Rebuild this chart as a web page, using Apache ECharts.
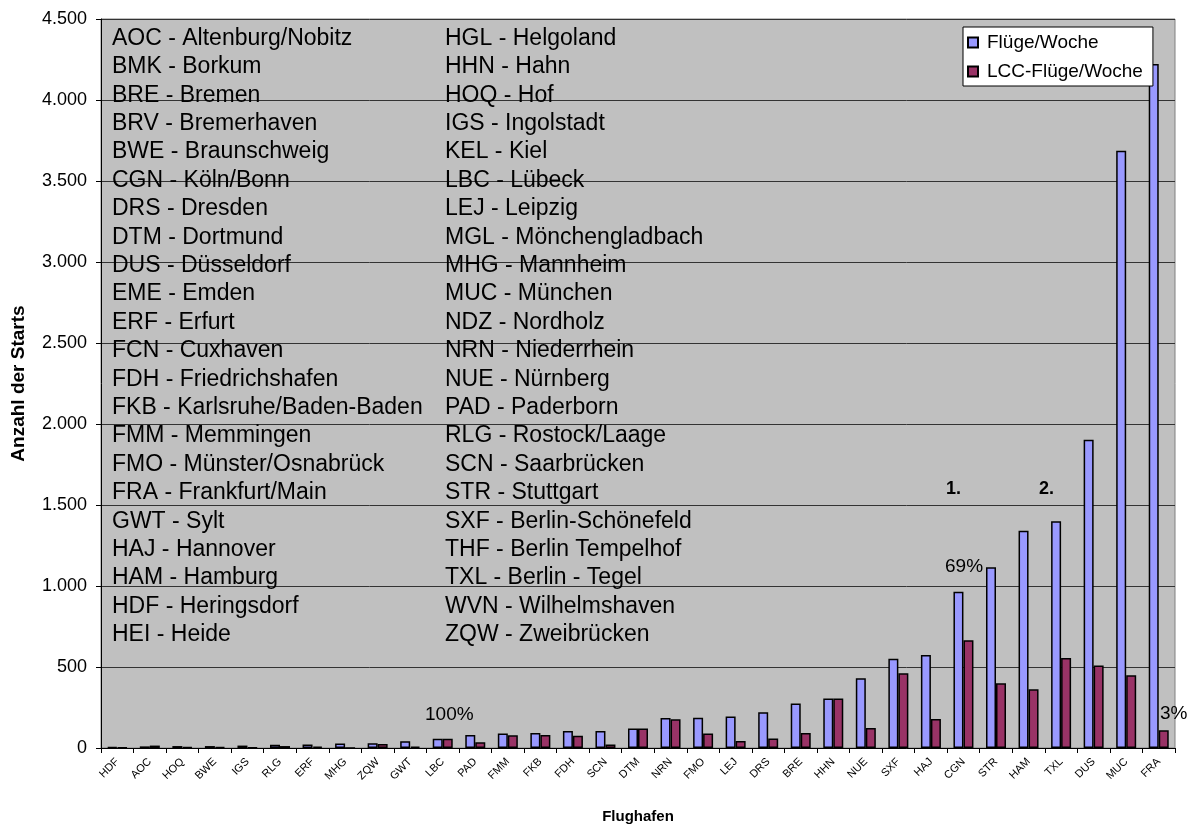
<!DOCTYPE html>
<html>
<head>
<meta charset="utf-8">
<title>Flüge/Woche</title>
<script src="https://cdn.jsdelivr.net/npm/echarts@6/dist/echarts.min.js"></script>
<style>
  html, body { margin: 0; padding: 0; background: #fff; }
  #chart { width: 1193px; height: 827px; }
</style>
</head>
<body>
<div id="chart"></div>
<script>
// Flughäfen, sortiert nach Flügen pro Woche
var airports = ['HDF','AOC','HOQ','BWE','IGS','RLG','ERF','MHG','ZQW','GWT','LBC','PAD','FMM','FKB','FDH','SCN','DTM','NRN','FMO','LEJ','DRS','BRE','HHN','NUE','SXF','HAJ','CGN','STR','HAM','TXL','DUS','MUC','FRA'];
var flights = [5, 10, 12, 12, 15, 20, 22, 28, 30, 42, 57, 80, 89, 92, 105, 105, 121, 185, 187, 194, 220, 274, 306, 430, 551, 574, 965, 1115, 1341, 1399, 1903, 3687, 4222];
var lccFlights = [3, 15, 5, 5, 3, 12, 8, 0, 24, 8, 57, 35, 78, 80, 76, 21, 120, 177, 90, 43, 58, 92, 306, 123, 461, 179, 665, 399, 362, 556, 510, 449, 109];
var yTicks = [0, 500, 1000, 1500, 2000, 2500, 3000, 3500, 4000, 4500];

// Legende der Kürzel (zwei Spalten)
var codesLeft = ['AOC - Altenburg/Nobitz','BMK - Borkum','BRE - Bremen','BRV - Bremerhaven','BWE - Braunschweig','CGN - Köln/Bonn','DRS - Dresden','DTM - Dortmund','DUS - Düsseldorf','EME - Emden','ERF - Erfurt','FCN - Cuxhaven','FDH - Friedrichshafen','FKB - Karlsruhe/Baden-Baden','FMM - Memmingen','FMO - Münster/Osnabrück','FRA - Frankfurt/Main','GWT - Sylt','HAJ - Hannover','HAM - Hamburg','HDF - Heringsdorf','HEI - Heide'];
var codesRight = ['HGL - Helgoland','HHN - Hahn','HOQ - Hof','IGS - Ingolstadt','KEL - Kiel','LBC - Lübeck','LEJ - Leipzig','MGL - Mönchengladbach','MHG - Mannheim','MUC - München','NDZ - Nordholz','NRN - Niederrhein','NUE - Nürnberg','PAD - Paderborn','RLG - Rostock/Laage','SCN - Saarbrücken','STR - Stuttgart','SXF - Berlin-Schönefeld','THF - Berlin Tempelhof','TXL - Berlin - Tegel','WVN - Wilhelmshaven','ZQW - Zweibrücken'];

var FONT = 'Liberation Sans, Arial, sans-serif';

function fmtDe(v) {
    return String(v).replace(/\B(?=(\d{3})+(?!\d))/g, '.');
}

var myChart = echarts.init(document.getElementById('chart'));

var graphics = [];
/* Kürzel-Liste */
codesLeft.forEach(function (t, i) {
    graphics.push({type: 'text', left: 112, top: 27 + i * 28.4, z: 1,
        style: {text: t, font: '23px ' + FONT, fill: '#000'}});
});
codesRight.forEach(function (t, i) {
    graphics.push({type: 'text', left: 445, top: 27 + i * 28.4, z: 1,
        style: {text: t, font: '23px ' + FONT, fill: '#000'}});
});
/* Anmerkungen */
var notes = [
    {text: '100%', left: 425, top: 705, bold: false},
    {text: '69%', left: 945, top: 557, bold: false},
    {text: '3%', left: 1160, top: 704, bold: false},
    {text: '1.', left: 946, top: 480, bold: true},
    {text: '2.', left: 1039, top: 480, bold: true}
];
notes.forEach(function (n) {
    graphics.push({type: 'text', left: n.left, top: n.top, z: 1,
        style: {text: n.text, font: (n.bold ? 'bold 18px ' : '19px ') + FONT, fill: '#000'}});
});

var option = {
    backgroundColor: '#fff',
    animation: false,
    textStyle: {fontFamily: FONT},
    grid: {
        left: 101, right: 18, top: 19, bottom: 79,
        outerBoundsMode: 'none',
        containLabel: false,
        show: true,
        backgroundColor: '#C0C0C0',
        borderColor: '#808080',
        borderWidth: 1
    },
    legend: {
        orient: 'vertical',
        left: 963, top: 27,
        padding: [6, 10, 5, 4],
        itemGap: 10,
        itemWidth: 10, itemHeight: 10,
        backgroundColor: '#fff',
        borderColor: '#000',
        borderWidth: 1,
        borderRadius: 0,
        icon: 'rect',
        textStyle: {fontSize: 19, color: '#000', padding: [0, 0, 0, 4]},
        data: ['Flüge/Woche', 'LCC-Flüge/Woche']
    },
    xAxis: {
        type: 'category',
        data: airports,
        name: 'Flughafen',
        nameLocation: 'middle',
        nameGap: 61,
        nameTextStyle: {fontSize: 15, fontWeight: 'bold', color: '#000'},
        axisLine: {lineStyle: {color: '#000', width: 1}},
        axisTick: {show: true, interval: 0, length: 5, lineStyle: {color: '#000'}},
        axisLabel: {show: true, interval: 0, rotate: 45, fontSize: 11, color: '#000', margin: 12},
        splitLine: {show: false}
    },
    yAxis: {
        type: 'value',
        min: 0, max: 4500, interval: 500,
        name: 'Anzahl der Starts',
        nameLocation: 'middle',
        nameGap: 73,
        nameTextStyle: {fontSize: 19, fontWeight: 'bold', color: '#000'},
        axisLine: {show: true, lineStyle: {color: '#000', width: 1}},
        axisTick: {show: true, length: 5, lineStyle: {color: '#000'}},
        axisLabel: {
            fontSize: 18, color: '#000', margin: 14,
            formatter: function (v) { return yTicks.indexOf(v) >= 0 ? fmtDe(v) : ''; }
        },
        splitLine: {show: true, lineStyle: {color: '#333', width: 1}}
    },
    series: [
        {
            name: 'Flüge/Woche',
            type: 'bar',
            barWidth: 10,
            barGap: '0%',
            itemStyle: {color: '#9999FF', borderColor: '#000', borderWidth: 1.5},
            data: flights,
            z: 3
        },
        {
            name: 'LCC-Flüge/Woche',
            type: 'bar',
            barWidth: 10,
            barGap: '0%',
            itemStyle: {color: '#993366', borderColor: '#000', borderWidth: 1.5},
            data: lccFlights,
            z: 3
        }
    ],
    graphic: graphics
};

myChart.setOption(option);
</script>
</body>
</html>
